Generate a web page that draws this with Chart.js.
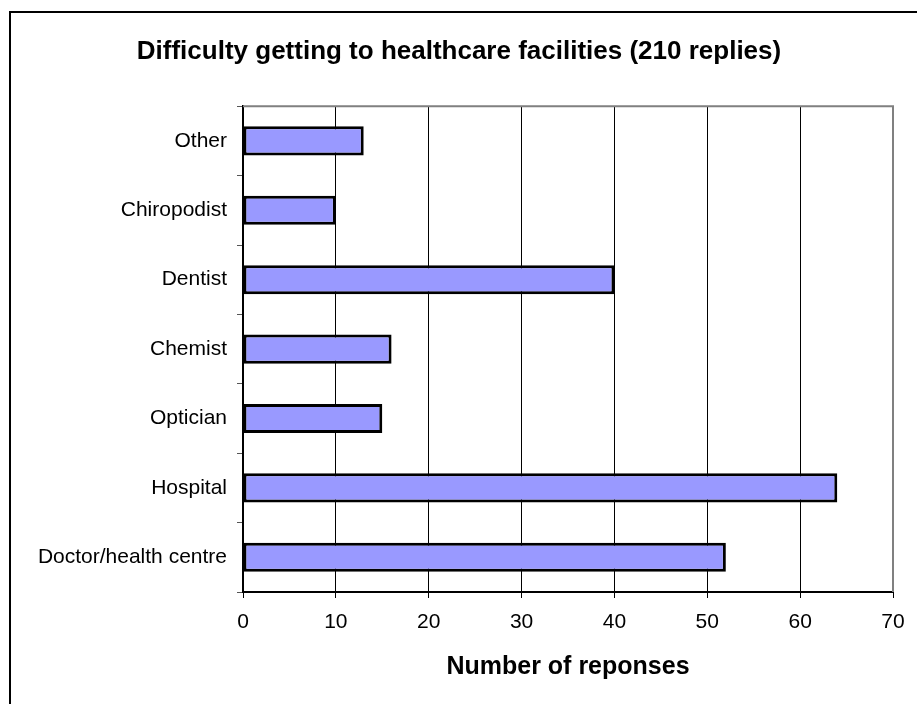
<!DOCTYPE html>
<html lang="en">
<head>
  <meta charset="UTF-8">
  <title>Difficulty getting to healthcare facilities</title>
  <script src="https://cdn.jsdelivr.net/npm/chart.js"></script>
  <style>
    body { margin: 0; background: #fff; }
  </style>
</head>
<body>
  <canvas id="careChart" width="917" height="704"></canvas>

  <script>
    // categories top to bottom, as in the picture
    const facilities = ['Other', 'Chiropodist', 'Dentist', 'Chemist', 'Optician', 'Hospital', 'Doctor/health centre'];
    const responses = [13, 10, 40, 16, 15, 64, 52];
    const xTicks = [0, 10, 20, 30, 40, 50, 60, 70];

    const font = "'Liberation Sans', Arial, sans-serif";

    // outer frame and the grey top/right edges of the plot area
    const framePlugin = {
      id: 'frame',
      beforeDraw(chart) {
        const c = chart.ctx;
        c.save();
        c.fillStyle = '#fff';
        c.fillRect(0, 0, chart.width, chart.height);
        c.strokeStyle = '#000';
        c.lineWidth = 2;
        c.strokeRect(10, 12, 1200, 1200);
        c.restore();
      },
      afterDraw(chart) {
        const a = chart.chartArea;
        const c = chart.ctx;
        c.save();
        c.strokeStyle = '#808080';
        c.lineWidth = 2;
        c.beginPath();
        c.moveTo(a.left, a.top);
        c.lineTo(a.right, a.top);
        c.lineTo(a.right, a.bottom);
        c.stroke();
        c.restore();
      }
    };

    const ctx = document.getElementById('careChart').getContext('2d');
    const chart = new Chart(ctx, {
      type: 'bar',
      data: {
        labels: facilities,
        datasets: [{
          data: responses,
          backgroundColor: '#9999FF',
          borderColor: '#000',
          borderWidth: 3,
          borderSkipped: false,
          barPercentage: 0.42,
          categoryPercentage: 1
        }]
      },
      options: {
        indexAxis: 'y',
        responsive: false,
        animation: false,
        layout: { padding: { left: 25, right: 24, top: 0, bottom: 0 } },
        plugins: {
          legend: { display: false },
          tooltip: { enabled: false },
          title: {
            display: true,
            text: 'Difficulty getting to healthcare facilities (210 replies)',
            color: '#000',
            font: { family: font, size: 26, weight: 'bold' },
            padding: { top: 36, bottom: 39 }
          }
        },
        scales: {
          x: {
            min: 0,
            max: 70,
            afterBuildTicks(scale) {
              scale.ticks = xTicks.map(v => ({ value: v }));
            },
            afterFit(scale) { scale.height = 112; },
            grid: { color: '#000', lineWidth: 1, tickLength: 6, tickColor: '#000' },
            border: { color: '#000', width: 2 },
            ticks: { color: '#000', padding: 12, font: { family: font, size: 21 } },
            title: {
              display: true,
              text: 'Number of reponses',
              color: '#000',
              font: { family: font, size: 25, weight: 'bold' },
              padding: { top: 10, bottom: 22 }
            }
          },
          y: {
            afterFit(scale) { scale.width = 218; },
            grid: { drawOnChartArea: false, offset: true, tickLength: 6, tickColor: '#555', lineWidth: 1 },
            border: { color: '#000', width: 2 },
            ticks: { color: '#000', padding: 10, font: { family: font, size: 21 } }
          }
        }
      },
      plugins: [framePlugin]
    });
  </script>
</body>
</html>
